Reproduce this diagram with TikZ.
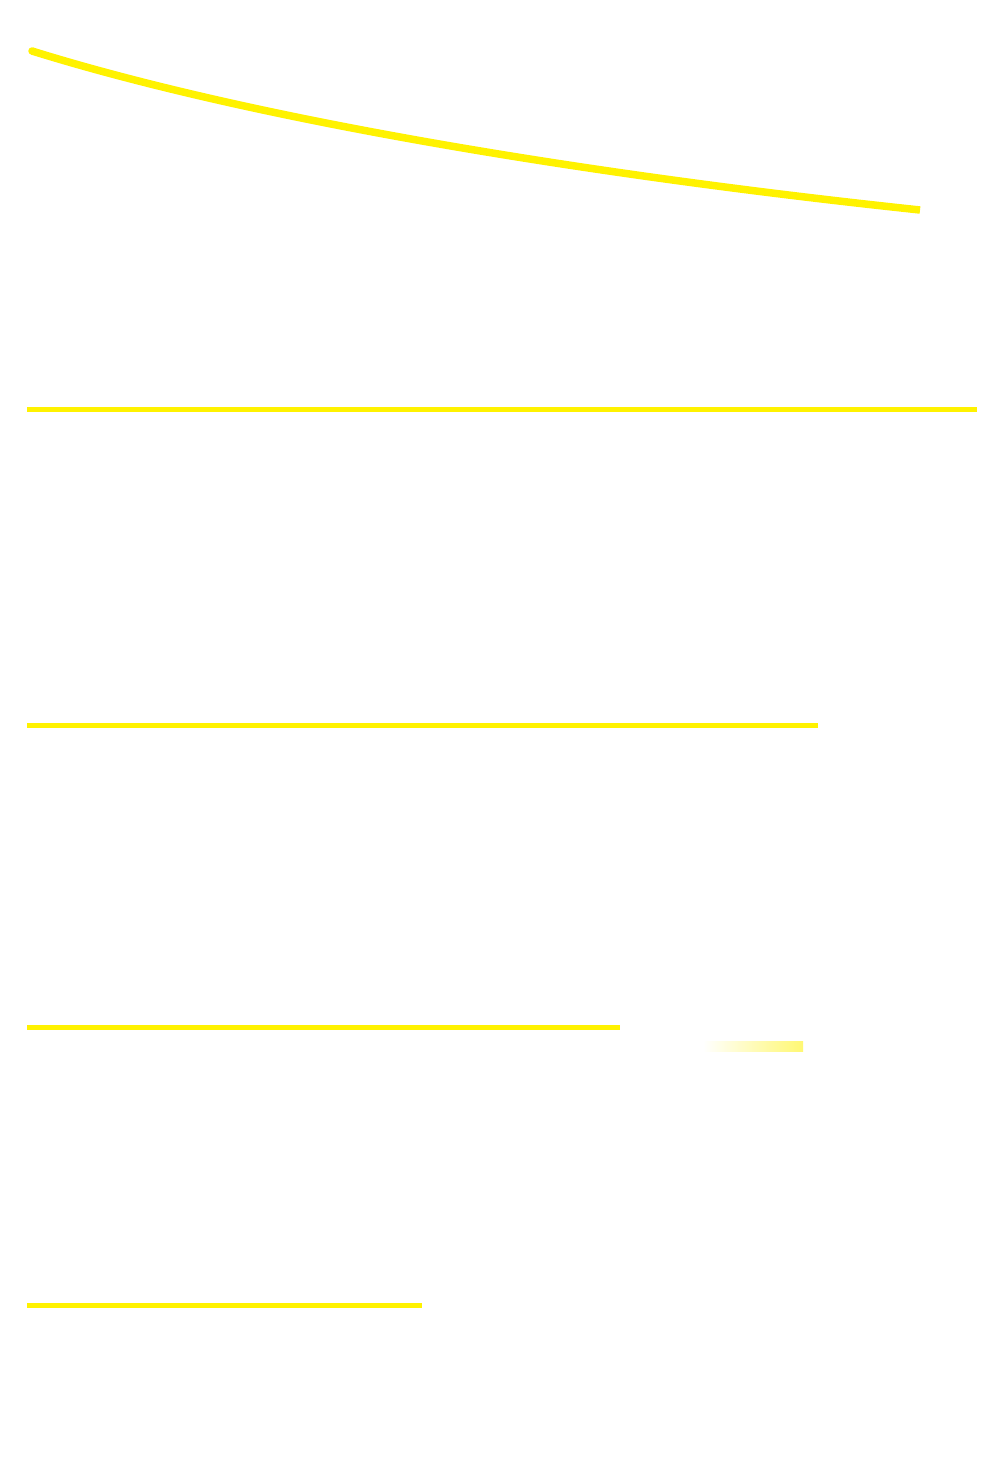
\documentclass[tikz,border=0pt]{standalone}
\begin{document}
\begin{tikzpicture}[x=1pt,y=-1pt,
  yl/.style={draw={rgb,255:red,255;green,242;blue,0},line width=5pt}]
\definecolor{ylw}{RGB}{255,242,0}
\useasboundingbox (0,0) rectangle (1000,1459);
\fill[white] (0,0) rectangle (1000,1459);
\coordinate (c0) at (32,51);
\coordinate (c1) at (920,210);
\draw[yl,line width=7.5pt] (c0) .. controls (260,122) and (600,176) .. (c1);
\fill[ylw] (c0) circle (3.75pt);
\foreach \y/\x in {409/977,725/818,1027/620,1305/422}{
  \coordinate (l\y a) at (27,\y);
  \coordinate (l\y b) at (\x,\y);
  \draw[yl] (l\y a) -- (l\y b);
}
\shade[left color=white,right color=ylw!55] (703,1041) rectangle (803,1051);
\end{tikzpicture}
\end{document}
